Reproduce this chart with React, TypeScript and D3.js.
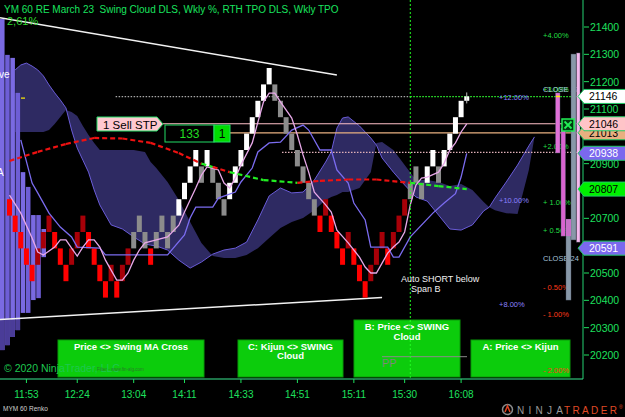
import React from "react";
import * as d3 from "d3";

const FONT = "'Liberation Sans', Arial, Helvetica, sans-serif";

// ---------- data ----------
const brickSize = 60;
const brickLow = [
  20710, 20650, 20590, 20530, 20470, 20530, 20590, 20650, 20590, 20530,
  20470, 20530, 20590, 20650, 20590, 20530, 20470, 20410, 20470, 20410,
  20470, 20530, 20590, 20650, 20590, 20530, 20590, 20650, 20590, 20650,
  20710, 20770, 20830, 20890, 20830, 20890, 20830, 20770, 20710, 20770,
  20830, 20890, 20950, 21010, 21070, 21130, 21190, 21130, 21070, 21010,
  20950, 20890, 20830, 20770, 20710, 20650, 20710, 20650, 20590, 20530,
  20590, 20530, 20470, 20410, 20470, 20530, 20590, 20530, 20590, 20650,
  20710, 20770, 20830, 20770, 20830, 20890, 20830, 20890, 20950, 21010, 21070,
];
// R = falling below, D = rising below, G = neutral, W = rising above
const brickKind = "RRRRRDDDRRRDDDRRRRDRDDGGGRGGGGWWWWGWGGGWWWWWWWWGGGGGGGGRDRRRDRRRDDDRDDDGGGWWGWWWW".split("");
const lastPrice = 21146;

const timeIdx = [3, 12, 22, 31, 41, 51, 61, 70, 80];
const timeLabels = ["11:53", "12:24", "13:04", "14:11", "14:33", "14:51", "15:11", "15:30", "16:08"];
const priceTicks = [20200, 20300, 20400, 20500, 20600, 20700, 20800, 20900, 21000, 21100, 21200, 21300, 21400];

const tenkanIdx = [0,2,4,5,6,8,9,10,11,12,13,14,15,16,17,19,20,21,22,23,24,26,28,30,31,33,34,35,37,38,39,40,41,43,44,45,46,47,48,50,51,52,53,54,56,57,58,60,62,63,64,65,66,67,68,69,70,71,72,73,74,76,77,78,79,80,81];
const tenkanVal = [20785,20719,20628,20577,20566,20595,20621,20621,20591,20562,20595,20621,20621,20595,20547,20474,20474,20500,20547,20584,20610,20621,20632,20675,20723,20811,20858,20888,20877,20829,20811,20847,20895,20976,21052,21126,21158,21158,21126,21067,21005,20932,20869,20796,20749,20723,20657,20610,20558,20522,20500,20500,20536,20573,20595,20613,20650,20749,20822,20847,20851,20869,20902,20950,20976,21016,21046];

const kijunIdx = [2,4,5,7,9,11,12,16,17,28,31,32,33,36,37,40,41,43,44,46,48,50,52,53,55,57,58,60,61,63,64,67,68,69,71,75,77,79,80,81];
const kijunVal = [20987,20829,20793,20719,20668,20632,20595,20591,20566,20566,20639,20701,20741,20741,20774,20796,20833,20884,20943,20976,20979,21023,21041,21023,20950,20950,20877,20829,20756,20694,20595,20595,20558,20558,20632,20719,20756,20790,20851,20938];

const swingIdx = [0,5,10,15,20,25,30,34,36,39,45,51,55,60,65,71,76,81];
const swingVal = [20910,20943,20972,20994,20992,20976,20939,20900,20888,20869,20840,20830,20837,20842,20842,20830,20818,20807];
const swingTrend = [-1,-1,-1,-1,-1,-1,-1,1,-1,1,1,-1,-1,-1,-1,1,1];

const cloudIdx = [1,2,3,4,5,6,7,8,9,10,11,12,13,14,15,16,18,20,22,24,25,26,28,30,32,34,36,38,40,42,44,46,48,50,52,54,56,57,58,59,60,62,64,65,66,68,70,72,74,76,78,80,82,84,85,86,88,90,92,93];
const spanA = [21243,21261,21268,21257,21243,21221,21188,21159,21133,21104,21023,20957,20913,20869,20804,20749,20676,20661,20632,20606,20602,20599,20584,20547,20518,20540,20569,20584,20591,20613,20694,20782,20811,20793,20796,20840,20906,20943,21030,21067,21071,21038,20994,20968,20921,20869,20822,20778,20763,20712,20661,20657,20676,20727,20741,20774,20833,20895,20965,20998];
const spanB = [21016,21016,21016,21016,21016,21016,21023,21045,21071,21096,21089,21074,21038,21005,20976,20950,20950,20950,20950,20943,20906,20884,20833,20767,20687,20610,20562,20555,20555,20566,20591,20628,20665,20687,20701,20730,20767,20778,20785,20796,20796,20811,20869,20976,20979,20950,20895,20840,20840,20833,20818,20826,20804,20760,20741,20730,20719,20716,20877,20998];

// left weekly TPO columns (price top / bottom)
const tpoTop = [21429, 21298, 21287, 21159, 20869, 20815, 20712, 20712, 20661];
const tpoBottom = [20218, 20236, 20266, 20291, 20354, 20354, 20401, 20408, 20558];

// right session bars
const sideTop = [21159, 21030, 20697, 21301, 21305];
const sideBottom = [20939, 20635, 20401, 20621, 20613];

const flagPrices = [21146, 21013, 21046, 20938, 20807, 20591];
const flagTexts = ["21146", "21013", "21046", "20938", "20807", "20591"];

const pctText = ["+4.00%", "+3.00%", "+2.00%", "+ 1.00%", "+ 0.50%", "- 0.50%", "- 1.00%", "- 2.00%"];
const pctPrice = [21371, 21173, 20965, 20760, 20657, 20449, 20350, 20145];
const wideText = ["+12.00%", "+10.00%", "+8.00%"];
const widePrice = [21144, 20767, 20386];
const closeText = ["CLOSE 17", "CLOSE 24"];
const closePrice = [21175, 20555];

const upperTrend = [[-1.68, 21434], [58.0, 21224]];
const lowerTrend = [[-1.68, 20330], [66.0, 20410]];

const stopPrice = 21046;
const targetPrice = 21013;
const kijunLevel = 20941;
const lastLine = 21145;

export default function App() {
  const W = 625, H = 417;
  const right = 583, bottom = 379;
  const x = d3.scaleLinear().domain([0, 80]).range([9.5, 461.1]);
  const y = d3.scaleLinear().domain([20200, 21400]).range([355, 27]);
  const bw = 5;

  const cloudArea = d3.area<number>()
    .x((_, i) => x(cloudIdx[i]))
    .y0((_, i) => y(spanB[i]))
    .y1((_, i) => y(spanA[i]));
  const idxLine = (idx: number[]) => d3.line<number>().x((_, i) => x(idx[i])).y((d) => y(d));

  const colX = d3.scaleBand<number>().domain(d3.range(tpoTop.length)).range([0, 46]).paddingInner(0.12);

  const brickFill: Record<string, string> = { R: "#ff0000", D: "#a80008", G: "#8c8c8c", W: "#ffffff" };

  const flagStyle = [
    { fill: "#ffffff", color: "#000" },
    { fill: "#e8b080", color: "#000" },
    { fill: "#ffc4c8", color: "#000" },
    { fill: "#7b68ee", color: "#fff" },
    { fill: "#00f000", color: "#000" },
    { fill: "#7b68ee", color: "#fff" },
  ];
  const sideFill = ["#e070d8", "#d864d0", "#8898a8", "#8898a8", "#f4b8ec"];
  const sideX = [555.5, 561, 566, 571, 576.5];
  const sideW = [4.5, 4.5, 5, 5, 3.5];

  const green = "#1ee05e";
  const visibleTicks = priceTicks.filter((p) => flagPrices.every((f) => Math.abs(y(p) - y(f)) > 6));
  const lowShade = 20330;

  return (
    <svg width={W} height={H} style={{ position: "fixed", left: 0, top: 0, background: "#000" }} fontFamily={FONT}>
      <rect x={0} y={0} width={W} height={H} fill="#000" />
      {/* cloud */}
      <path d={cloudArea(spanA) || ""} fill="#2e2a62" />
      <path d={idxLine(cloudIdx)(spanA) || ""} fill="none" stroke="#6a5cd8" strokeWidth={1} />

      {/* left TPO columns */}
      {tpoTop.map((t, i) => (
        <g key={"tpo" + i}>
          <rect x={colX(i)} y={y(t)} width={colX.bandwidth()} height={y(tpoBottom[i]) - y(t)} fill={i % 2 ? "#6e5ed6" : "#7a6ae2"} />
          {tpoBottom[i] < lowShade && (
            <rect x={colX(i)} y={y(lowShade)} width={colX.bandwidth()} height={y(tpoBottom[i]) - y(lowShade)} fill="#4a3c98" />
          )}
        </g>
      ))}
      <text x={-1} y={78} fill="#fff" fontSize={10}>ve</text>
      <text x={-3} y={176} fill="#fff" fontSize={10}>A</text>
      <rect x={21} y={97.5} width={4} height={1.2} fill="#ffee00" />

      {/* horizontal levels */}
      <line x1={x(18.8)} x2={x(71)} y1={y(lastLine)} y2={y(lastLine)} stroke="#a8a8a8" strokeWidth={1.2} strokeDasharray="1.5,1.5" />
      <line x1={x(71)} x2={right} y1={y(lastLine)} y2={y(lastLine)} stroke="#30ff30" strokeWidth={1.2} strokeDasharray="1.5,1.5" />
      <line x1={163} x2={right} y1={y(stopPrice)} y2={y(stopPrice)} stroke="#ffc0c8" strokeWidth={1.2} />
      <line x1={230} x2={right} y1={y(targetPrice)} y2={y(targetPrice)} stroke="#e8b080" strokeWidth={1.2} />
      <line x1={282} x2={right} y1={y(kijunLevel)} y2={y(kijunLevel)} stroke="#e0b0b8" strokeWidth={1.2} strokeDasharray="1.5,1.5" />

      {/* trend lines */}
      {[upperTrend, lowerTrend].map((t, i) => (
        <line key={"tr" + i} x1={x(t[0][0])} y1={y(t[0][1])} x2={x(t[1][0])} y2={y(t[1][1])} stroke="#f2f2f2" strokeWidth={1.5} />
      ))}

      {/* renko bricks */}
      {brickLow.map((lo, i) => (
        <rect key={"b" + i} x={x(i) - bw / 2} y={y(lo + brickSize)} width={bw} height={y(lo) - y(lo + brickSize)} fill={brickFill[brickKind[i]]} />
      ))}
      <rect x={x(81) - bw / 2} y={y(lastPrice)} width={bw} height={y(brickLow[80] + brickSize) - y(lastPrice)} fill="#fff" />
      <line x1={x(81)} x2={x(81)} y1={y(lastPrice) - 4} y2={y(lastPrice) + 7} stroke="#bbb" strokeWidth={1} />

      {/* kijun & tenkan */}
      <path d={idxLine(kijunIdx)(kijunVal) || ""} fill="none" stroke="#7b6cf0" strokeWidth={1.3} />
      <path d={idxLine(tenkanIdx)(tenkanVal) || ""} fill="none" stroke="#e8a8e8" strokeWidth={1.3} />

      {/* swing MA */}
      {swingTrend.map((t, j) => (
        <line key={"sw" + j} x1={x(swingIdx[j])} y1={y(swingVal[j])} x2={x(swingIdx[j + 1])} y2={y(swingVal[j + 1])}
          stroke={t > 0 ? "#22ee22" : "#ee1111"} strokeWidth={2.2} strokeDasharray="5,3" />
      ))}

      {/* vertical marker */}
      <line x1={x(71)} x2={x(71)} y1={0} y2={bottom} stroke="#22ff22" strokeWidth={1} strokeDasharray="2,2" />

      {/* order labels */}
      <path d="M97,117 L157,117 L163,124 L157,131 L97,131 Z" fill="#ffc8d0" stroke="#22dd66" strokeWidth={1} />
      <text x={103} y={128.5} fontSize={11.5} fill="#000">1  Sell STP</text>
      <rect x={165} y={125} width={49} height={17} fill="#000" stroke="#22dd66" strokeWidth={1} />
      <text x={189.5} y={138} fontSize={12} fill="#22dd22" textAnchor="middle">133</text>
      <rect x={214} y={125} width={16} height={17} fill="#00dd00" stroke="#22dd66" strokeWidth={1} />
      <text x={222} y={138} fontSize={12} fill="#000" textAnchor="middle">1</text>

      <text x={401} y={282} fontSize={9} fill="#f0f0f0">Auto SHORT below</text>
      <text x={411} y={292} fontSize={9} fill="#f0f0f0">Span B</text>

      {/* bottom signal boxes */}
      <rect x={58} y={340} width={146} height={37} fill="#0ccc0c" stroke="#089a08" />
      <text x={131} y={349.5} fontSize={9.5} fontWeight="bold" fill="#fff" textAnchor="middle">Price &lt;&gt; Swing MA Cross</text>
      <rect x={238} y={340} width={105} height={37} fill="#0ccc0c" stroke="#089a08" />
      <text x={290.5} y={349.5} fontSize={9.5} fontWeight="bold" fill="#fff" textAnchor="middle">C: Kijun &lt;&gt; SWING</text>
      <text x={290.5} y={359} fontSize={9.5} fontWeight="bold" fill="#fff" textAnchor="middle">Cloud</text>
      <rect x={354} y={320} width={106} height={57} fill="#0ccc0c" stroke="#089a08" />
      <text x={407} y={330} fontSize={9.5} fontWeight="bold" fill="#fff" textAnchor="middle">B: Price &lt;&gt; SWING</text>
      <text x={407} y={340} fontSize={9.5} fontWeight="bold" fill="#fff" textAnchor="middle">Cloud</text>
      <line x1={382} x2={467} y1={356.7} y2={356.7} stroke="#8a8a8a" strokeWidth={1} />
      <text x={382} y={367} fontSize={11} fill="#7a8a7a">PP</text>
      <rect x={471} y={340} width={99} height={37} fill="#0ccc0c" stroke="#089a08" />
      <text x={520.5} y={349.5} fontSize={9.5} fontWeight="bold" fill="#fff" textAnchor="middle">A: Price &lt;&gt; Kijun</text>
      <line x1={x(71)} x2={x(71)} y1={320} y2={377} stroke="#22ff22" strokeWidth={1} strokeDasharray="2,2" />

      {/* weekly % labels */}
      {wideText.map((t, i) => (
        <text key={"w" + i} x={499} y={y(widePrice[i]) + 3} fontSize={7.5} fill="#8a80ff">{t}</text>
      ))}
      {pctText.map((t, i) => (
        <text key={"p" + i} x={543} y={y(pctPrice[i]) + 3} fontSize={7.5} fill={t.startsWith("-") ? "#ff3a1a" : "#22dd44"}>{t}</text>
      ))}
      {closeText.map((t, i) => (
        <text key={"c" + i} x={543} y={y(closePrice[i]) + 3} fontSize={7.5} fill="#a8c4dc">{t}</text>
      ))}

      {/* right side bars */}
      {sideTop.map((t, i) => (
        <rect key={"s" + i} x={sideX[i]} y={y(t)} width={sideW[i]} height={y(sideBottom[i]) - y(t)} fill={sideFill[i]} stroke="#505868" strokeWidth={0.4} />
      ))}
      <rect x={sideX[2]} y={y(sideTop[2])} width={sideW[2]} height={y(20635) - y(sideTop[2])} fill="#c870c8" />
      <rect x={556} y={y(lastPrice) - 0.8} width={4} height={1.6} fill="#ffee00" />
      <rect x={562} y={119} width={12} height={12} fill="#003a10" stroke="#22ee55" strokeWidth={1.5} />
      <path d="M564.5,121.5 L571.5,128.5 M571.5,121.5 L564.5,128.5" stroke="#22ee55" strokeWidth={1.8} />

      {/* axes */}
      <line x1={right} x2={right} y1={0} y2={bottom} stroke="#1fb060" strokeWidth={1.2} />
      <line x1={0} x2={right} y1={bottom} y2={bottom} stroke="#3ae890" strokeWidth={1.2} />
      {priceTicks.map((p) => (
        <line key={"pl" + p} x1={584} x2={589} y1={y(p)} y2={y(p)} stroke={green} strokeWidth={1} />
      ))}
      {visibleTicks.map((p) => (
        <text key={"pt" + p} x={590} y={y(p) + 4} fontSize={10.5} fill={green}>{p}</text>
      ))}
      {timeIdx.map((ti, i) => (
        <g key={"tt" + i}>
          <line x1={x(ti)} x2={x(ti)} y1={bottom} y2={bottom + 4} stroke={green} strokeWidth={1} />
          <text x={x(ti)} y={398} fontSize={10} fill={green} textAnchor="middle">{timeLabels[i]}</text>
        </g>
      ))}

      {/* price flags */}
      {flagPrices.map((p, i) => {
        const cy = y(p);
        return (
          <g key={"f" + i}>
            <path d={`M578,${cy} L584,${cy - 7} L626,${cy - 7} L626,${cy + 7} L584,${cy + 7} Z`} fill={flagStyle[i].fill} stroke="#22cc66" strokeWidth={1} />
            <text x={589} y={cy + 4} fontSize={10.5} fill={flagStyle[i].color}>{flagTexts[i]}</text>
          </g>
        );
      })}

      {/* titles */}
      <text x={4} y={13} fontSize={10} fill="#19e35f" style={{ whiteSpace: "pre" }}>YM 60 RE March 23  Swing Cloud DLS, Wkly %, RTH TPO DLS, Wkly TPO</text>
      <text x={7} y={25} fontSize={11} fill="#2ed82e">2,61%</text>
      <text x={4} y={372} fontSize={10.5} fill="#1ec850">© 2020 NinjaTrader, LLC</text>
      <text x={97} y={371} fontSize={4.5} fill="#2a7a2a">Filter - www.fin-alg.com</text>
      <text x={3} y={411} fontSize={6.5} fill="#d0d0d0">MYM 60 Renko</text>

      {/* logo */}
      <circle cx={507.5} cy={409.5} r={5} fill="none" stroke="#8a8a8a" strokeWidth={1.5} />
      <path d="M505,412 L507.5,406 L510,412" fill="none" stroke="#e04020" strokeWidth={1.5} />
      <text x={517} y={414} fontSize={10} fill="#9a9a9a" textLength={46} lengthAdjust="spacing">NINJA</text>
      <text x={564} y={414} fontSize={10} fill="#e04a26" textLength={53} lengthAdjust="spacing">TRADER</text>
      <text x={619} y={409} fontSize={5} fill="#e04a26">®</text>
    </svg>
  );
}
